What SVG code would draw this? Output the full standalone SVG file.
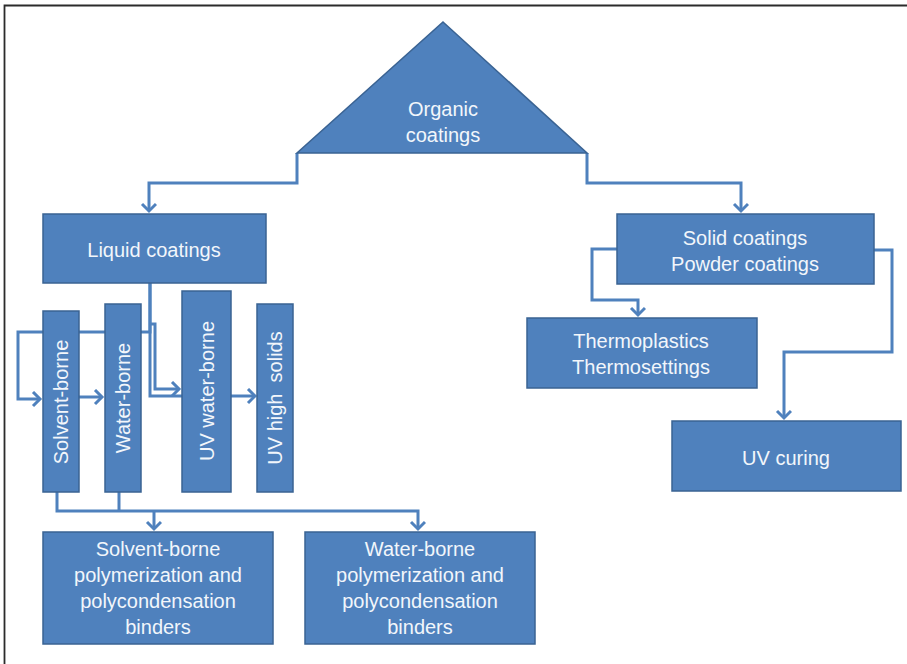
<svg xmlns="http://www.w3.org/2000/svg" width="907" height="664" viewBox="0 0 907 664">
<defs>
<marker id="arr" markerUnits="userSpaceOnUse" markerWidth="20" markerHeight="20" refX="9" refY="8" orient="auto">
<path d="M2,1 L9,8 L2,15" fill="none" stroke="#4F81BD" stroke-width="3"/>
</marker>
</defs>
<style>
.box{fill:#4F81BD;stroke:#3A6393;stroke-width:1.5}
.t{font-family:"Liberation Sans",Arial,sans-serif;font-size:20px;fill:#F2F6FB;text-anchor:middle}
.c{fill:none;stroke:#4F81BD;stroke-width:3}
.frame{fill:none;stroke:#2b2b2b;stroke-width:1.8}
</style>
<rect width="907" height="664" fill="#ffffff"/>
<path class="frame" d="M4.5,664 V5.5 H907"/>

<g id="connectors">
<path class="c" d="M297,153 V183 H149 V211" marker-end="url(#arr)"/>
<path class="c" d="M587,153 V183 H741 V211" marker-end="url(#arr)"/>
<path class="c" d="M617,249 H592 V300 H638 V315" marker-end="url(#arr)"/>
<path class="c" d="M874,250 H892 V352 H784 V418" marker-end="url(#arr)"/>
<path class="c" d="M150,283 V332 H18 V399 H40" marker-end="url(#arr)"/>
<path class="c" d="M150,324 H155 V389 H179" marker-end="url(#arr)"/>
<path class="c" d="M150,283 V396 H255" marker-end="url(#arr)"/>
<path class="c" d="M79,397 H102" marker-end="url(#arr)"/>
<path class="c" d="M57,492 V511 H418 V529" marker-end="url(#arr)"/>
<path class="c" d="M119,492 V511"/>
<path class="c" d="M154,511 V529" marker-end="url(#arr)"/>
</g>

<g id="organic">
<polygon class="box" points="443,22 587,153 297,153"/>
<text class="t" x="443" y="116">Organic</text>
<text class="t" x="443" y="142">coatings</text>
</g>

<g id="liquid">
<rect class="box" x="43" y="214" width="223" height="69"/>
<text class="t" x="154" y="257">Liquid coatings</text>
</g>

<g id="solid">
<rect class="box" x="617" y="214" width="257" height="70"/>
<text class="t" x="745" y="245">Solid coatings</text>
<text class="t" x="745" y="271">Powder coatings</text>
</g>

<g id="thermo">
<rect class="box" x="527" y="318" width="230" height="70"/>
<text class="t" x="641" y="348">Thermoplastics</text>
<text class="t" x="641" y="374">Thermosettings</text>
</g>

<g id="uvcuring">
<rect class="box" x="672" y="421" width="229" height="70"/>
<text class="t" x="786" y="465">UV curing</text>
</g>

<g id="solventborne">
<rect class="box" x="43" y="311" width="36" height="181"/>
<text class="t" transform="translate(61,402) rotate(-90)" y="7">Solvent-borne</text>
</g>

<g id="waterborne">
<rect class="box" x="105" y="304" width="36" height="188"/>
<text class="t" transform="translate(123,398) rotate(-90)" y="7">Water-borne</text>
</g>

<g id="uvwaterborne">
<rect class="box" x="182" y="291" width="49" height="201"/>
<text class="t" transform="translate(206.5,391) rotate(-90)" y="7">UV water-borne</text>
</g>

<g id="uvhighsolids">
<rect class="box" x="257" y="304" width="36" height="188"/>
<text class="t" transform="translate(275,398) rotate(-90)" y="7" style="white-space:pre">UV high  solids</text>
</g>

<g id="solventbinders">
<rect class="box" x="43" y="532" width="230" height="112"/>
<text class="t" x="158" y="556">Solvent-borne</text>
<text class="t" x="158" y="582">polymerization and</text>
<text class="t" x="158" y="608">polycondensation</text>
<text class="t" x="158" y="634">binders</text>
</g>

<g id="waterbinders">
<rect class="box" x="305" y="532" width="230" height="112"/>
<text class="t" x="420" y="556">Water-borne</text>
<text class="t" x="420" y="582">polymerization and</text>
<text class="t" x="420" y="608">polycondensation</text>
<text class="t" x="420" y="634">binders</text>
</g>
</svg>
